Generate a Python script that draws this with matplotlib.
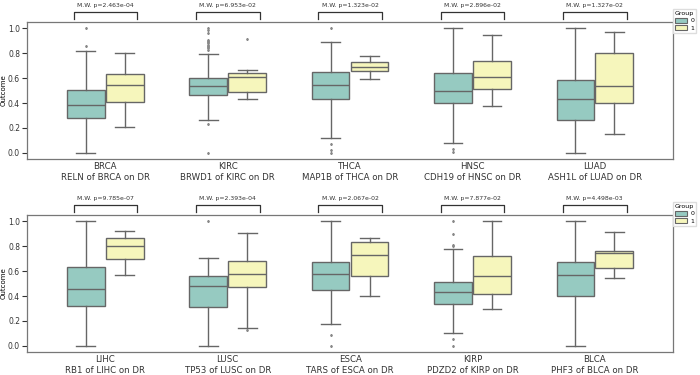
import matplotlib.pyplot as plt
import seaborn as sns

# categories and labels per row
cats_top = ['BRCA', 'KIRC', 'THCA', 'HNSC', 'LUAD']
genes_top = ['RELN', 'BRWD1', 'MAP1B', 'CDH19', 'ASH1L']
pvals_top = ['2.463e-04', '6.953e-02', '1.323e-02', '2.896e-02', '1.327e-02']

cats_bot = ['LIHC', 'LUSC', 'ESCA', 'KIRP', 'BLCA']
genes_bot = ['RB1', 'TP53', 'TARS', 'PDZD2', 'PHF3']
pvals_bot = ['9.785e-07', '2.393e-04', '2.067e-02', '7.877e-02', '4.498e-03']

# box stats: (whislo, q1, med, q3, whishi)
g0_top = [(0.0, 0.277, 0.381, 0.501, 0.819),
          (0.261, 0.467, 0.533, 0.603, 0.797),
          (0.115, 0.435, 0.541, 0.648, 0.89),
          (0.077, 0.403, 0.496, 0.643, 1.0),
          (0.0, 0.264, 0.432, 0.587, 1.0)]
g1_top = [(0.205, 0.408, 0.544, 0.637, 0.805),
          (0.432, 0.485, 0.605, 0.645, 0.667),
          (0.592, 0.659, 0.693, 0.728, 0.779),
          (0.373, 0.509, 0.605, 0.736, 0.947),
          (0.149, 0.397, 0.536, 0.805, 0.973)]
fl0_top = [[1.0, 0.856],
           [1.0, 0.985, 0.965, 0.91, 0.9, 0.89, 0.88, 0.87, 0.86, 0.85, 0.84, 0.83, 0.235, 0.0],
           [1.0, 0.072, 0.02, 0.0],
           [0.032, 0.005],
           []]
fl1_top = [[], [0.917], [], [], []]

g0_bot = [(0.0, 0.322, 0.455, 0.636, 1.0),
          (0.0, 0.309, 0.481, 0.561, 0.702),
          (0.173, 0.449, 0.58, 0.676, 1.0),
          (0.106, 0.338, 0.431, 0.513, 0.777),
          (0.0, 0.399, 0.569, 0.67, 1.0)]
g1_bot = [(0.572, 0.697, 0.798, 0.87, 0.92),
          (0.144, 0.471, 0.574, 0.684, 0.904),
          (0.399, 0.559, 0.731, 0.835, 0.867),
          (0.298, 0.418, 0.564, 0.718, 1.0),
          (0.543, 0.628, 0.745, 0.763, 0.915)]
fl0_bot = [[], [1.0], [0.085, 0.0], [1.0, 0.896, 0.81, 0.80, 0.053, 0.0], []]
fl1_bot = [[], [0.125], [], [], []]

pal = sns.color_palette('Set3', 2)
c0 = sns.desaturate(pal[0], 0.75)
c1 = sns.desaturate(pal[1], 0.75)
line_c = '#666666'


def stats(vals, fl):
    lo, q1, med, q3, hi = vals
    return dict(whislo=lo, q1=q1, med=med, q3=q3, whishi=hi, fliers=fl)


def draw_row(ax, cats, genes, pvals, g0, g1, fl0, fl1):
    off, w = 0.159, 0.307
    for i in range(len(cats)):
        for vals, fl, col, dx in ((g0[i], fl0[i], c0, -off), (g1[i], fl1[i], c1, off)):
            ax.bxp([stats(vals, fl)], positions=[i + dx], widths=w,
                   patch_artist=True, manage_ticks=False,
                   boxprops=dict(facecolor=col, edgecolor=line_c, linewidth=1.0),
                   medianprops=dict(color=line_c, linewidth=1.0),
                   whiskerprops=dict(color=line_c, linewidth=1.0),
                   capprops=dict(color=line_c, linewidth=1.0),
                   flierprops=dict(marker='d', markersize=1.1, markerfacecolor='#888888',
                                   markeredgecolor='#888888'))
        # bracket with p-value
        x1, x2 = i - 0.26, i + 0.26
        ax.plot([x1, x1, x2, x2], [1.072, 1.13, 1.13, 1.072], color='#333333',
                lw=0.9, clip_on=False)
        ax.text(i, 1.165, 'M.W. p=' + pvals[i], ha='center', va='bottom',
                fontsize=4.45, color='#333333', clip_on=False)
    ax.set_xlim(-0.64, len(cats) - 1 + 0.64)
    ax.set_ylim(-0.05, 1.05)
    ax.set_xticks(range(len(cats)))
    ax.set_xticklabels([c + '\n' + g + ' of ' + c + ' on DR' for c, g in zip(cats, genes)],
                       fontsize=6.2, linespacing=1.25)
    ax.set_yticks([0.0, 0.2, 0.4, 0.6, 0.8, 1.0])
    ax.tick_params(axis='y', labelsize=5.5, length=3.5, width=0.8, colors='#333333', pad=1.5)
    ax.tick_params(axis='x', length=0, pad=2, colors='#333333')
    ax.set_ylabel('Outcome', fontsize=5, va='center')
    ax.yaxis.set_label_coords(-0.0356, 0.5)
    for s in ax.spines.values():
        s.set_color('#777777')
        s.set_linewidth(0.9)
    h0 = plt.Rectangle((0, 0), 1, 1, facecolor=c0, edgecolor=line_c, lw=0.8)
    h1 = plt.Rectangle((0, 0), 1, 1, facecolor=c1, edgecolor=line_c, lw=0.8)
    ax.legend([h0, h1], ['0', '1'], title='Group', loc='upper left',
              bbox_to_anchor=(1.0, 1.095), fontsize=4.5, title_fontsize=4.5,
              handlelength=2.0, handleheight=0.8, borderpad=0.3,
              labelspacing=0.3, handletextpad=0.5, borderaxespad=0.0,
              frameon=True, framealpha=1.0, edgecolor='#dddddd', fancybox=False)


fig = plt.figure(figsize=(7, 3.75), dpi=100)
ax1 = fig.add_axes([0.0386, 0.576, 0.923, 0.365])
ax2 = fig.add_axes([0.0386, 0.0613, 0.923, 0.365])

draw_row(ax1, cats_top, genes_top, pvals_top, g0_top, g1_top, fl0_top, fl1_top)
draw_row(ax2, cats_bot, genes_bot, pvals_bot, g0_bot, g1_bot, fl0_bot, fl1_bot)

fig.savefig('out.png', dpi=100)
